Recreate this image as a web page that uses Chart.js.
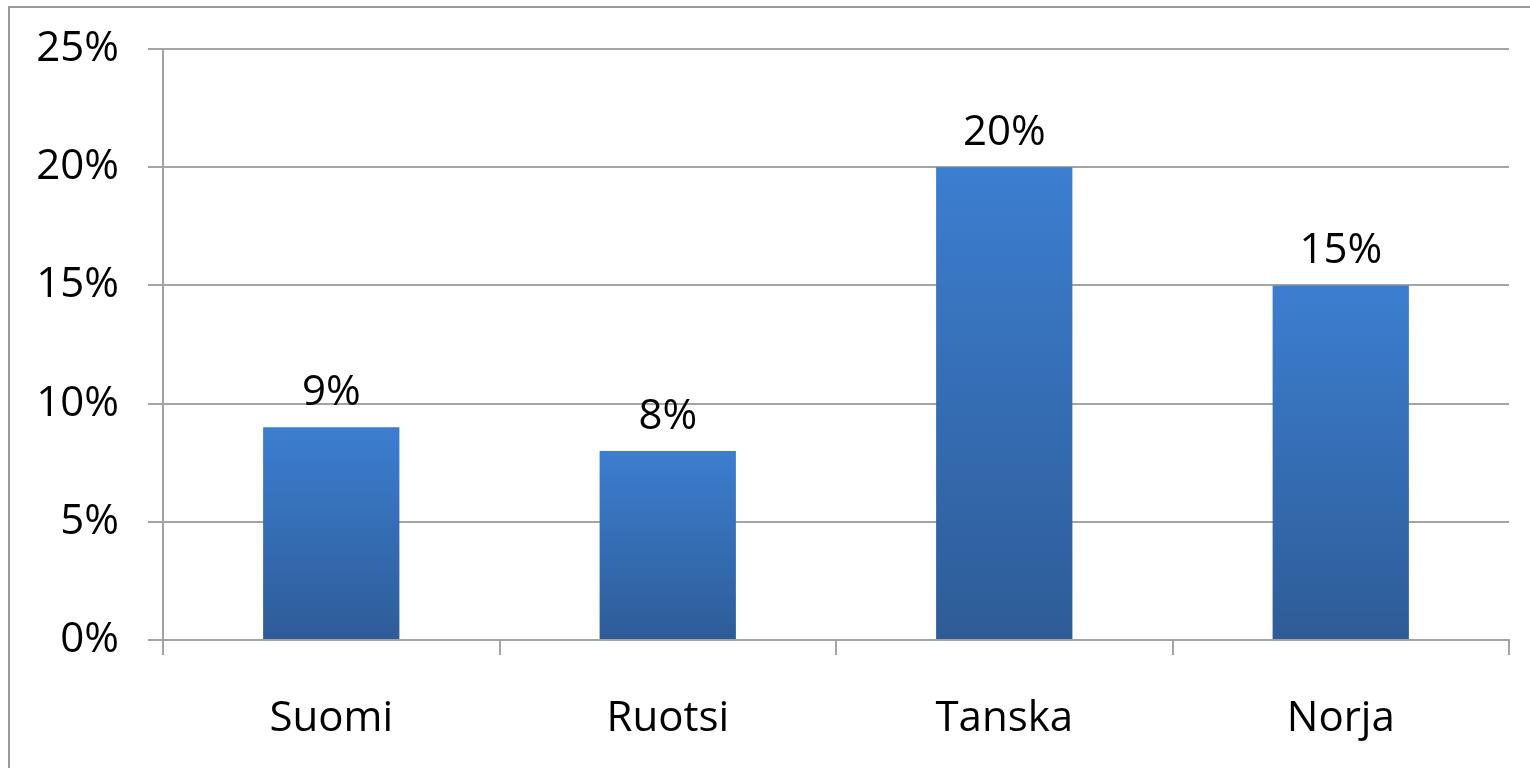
<!DOCTYPE html>
<html>
<head>
<meta charset="utf-8">
<script src="https://cdn.jsdelivr.net/npm/chart.js@4.4.1/dist/chart.umd.min.js"></script>
<style>
  html, body { margin: 0; padding: 0; background: #fff; overflow: hidden; }
  #frame { position: absolute; left: 8px; top: 6px; width: 1600px; height: 900px; border: 2px solid #999; }
  #wrap { position: absolute; left: 0; top: 0; width: 1530px; height: 768px; }
</style>
</head>
<body>
<div id="frame"></div>
<div id="wrap"><canvas id="chart" width="1530" height="768"></canvas></div>
<script>
// Data
const countries = ['Suomi', 'Ruotsi', 'Tanska', 'Norja'];
const shares = [9, 8, 20, 15];
const yTicks = [0, 5, 10, 15, 20, 25];

const FONT = "'Open Sans', sans-serif";
const gridColor = '#a3a3a3';

// vertical gradient per bar, lighter at the top
function barGradient(context) {
    const chart = context.chart;
    if (!chart.chartArea) return '#3a78c6';
    const y = chart.scales.y;
    const top = y.getPixelForValue(context.raw);
    const base = y.getPixelForValue(0);
    const g = chart.ctx.createLinearGradient(0, top, 0, base);
    g.addColorStop(0, '#3c7ed0');
    g.addColorStop(1, '#2e5c97');
    return g;
}

// value labels above bars
const valueLabels = {
    id: 'valueLabels',
    afterDatasetsDraw(chart) {
        const ctx = chart.ctx;
        const meta = chart.getDatasetMeta(0);
        ctx.save();
        ctx.font = '42px ' + FONT;
        ctx.fillStyle = '#000';
        ctx.textAlign = 'center';
        ctx.textBaseline = 'alphabetic';
        meta.data.forEach((bar, i) => {
            ctx.fillText(shares[i] + '%', bar.x, bar.y - 22);
        });
        ctx.restore();
    }
};

new Chart(document.getElementById('chart'), {
    type: 'bar',
    data: {
        labels: countries,
        datasets: [{
            data: shares,
            backgroundColor: barGradient,
            borderWidth: 0,
            barPercentage: 0.405,
            categoryPercentage: 1
        }]
    },
    options: {
        responsive: false,
        animation: false,
        layout: { padding: { top: 49, right: 21, left: 0, bottom: 0 } },
        plugins: {
            legend: { display: false },
            tooltip: { enabled: false }
        },
        scales: {
            x: {
                offset: true,
                afterFit(scale) { scale.height = 128; },
                grid: {
                    offset: true,
                    drawOnChartArea: false,
                    drawTicks: true,
                    tickLength: 15,
                    color: gridColor,
                    lineWidth: 2
                },
                border: { display: true, color: gridColor, width: 2 },
                ticks: {
                    color: '#000',
                    font: { family: FONT, size: 42 },
                    padding: 39,
                    maxRotation: 0
                }
            },
            y: {
                min: 0,
                max: 25,
                afterFit(scale) {
                    scale.width = 163;
                    scale.paddingTop = 0;
                    scale.paddingBottom = 0;
                },
                afterBuildTicks(scale) {
                    scale.ticks = yTicks.map(v => ({ value: v }));
                },
                grid: {
                    color: gridColor,
                    lineWidth: 2,
                    tickLength: 15
                },
                border: { display: true, color: gridColor, width: 2 },
                ticks: {
                    color: '#000',
                    font: { family: FONT, size: 42 },
                    padding: 29,
                    callback: v => v + '%'
                }
            }
        }
    },
    plugins: [valueLabels]
});
</script>
</body>
</html>
